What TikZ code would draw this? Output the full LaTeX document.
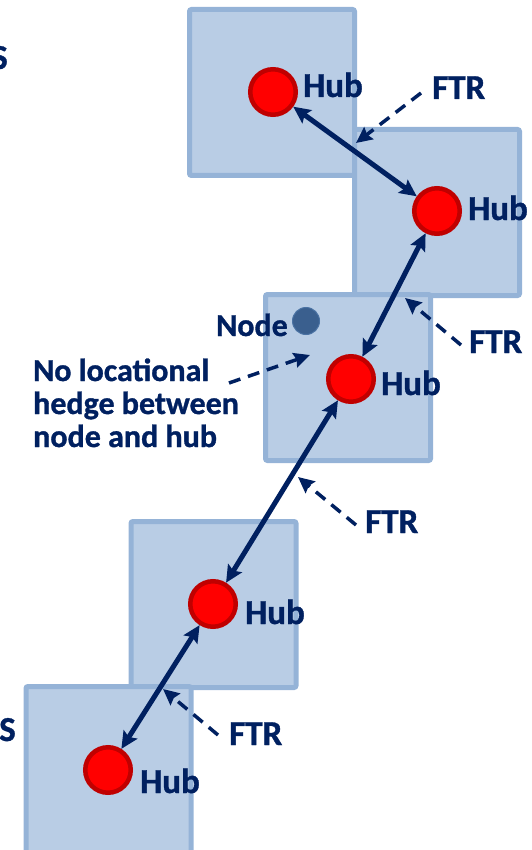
\documentclass[tikz,border=0pt]{standalone}
\usepackage{fontspec}
\setmainfont{Carlito}[BoldFeatures={FakeBold=1}]
\usetikzlibrary{arrows.meta}
\definecolor{navy}{HTML}{002060}
\definecolor{boxfill}{HTML}{B9CDE5}
\definecolor{boxline}{HTML}{95B3D7}
\definecolor{hubfill}{HTML}{FF0000}
\definecolor{hubline}{HTML}{C00000}
\definecolor{dotfill}{HTML}{3A5F8E}
\definecolor{dotline}{HTML}{4A72A3}
\begin{document}
\begin{tikzpicture}[x=1pt,y=-1pt,
  zone/.style={draw=boxline, fill=boxfill, line width=5pt, rounded corners=2pt,
    minimum width=165pt, minimum height=166pt, inner sep=0pt, outer sep=0pt},
  hub/.style={circle, fill=hubfill, draw=hubline, line width=4.5pt,
    minimum size=45.5pt, inner sep=0pt},
  smalldot/.style={circle, fill=dotfill, draw=dotline, line width=1pt,
    minimum size=27pt, inner sep=0pt},
  lbl/.style={anchor=base west, inner sep=0pt, text=navy,
    font=\fontsize{35}{40}\selectfont\bfseries},
  note/.style={anchor=base west, inner sep=0pt, text=navy, align=left,
    font=\fontsize{32}{33}\selectfont\bfseries},
  link/.style={draw=navy, line width=5pt,
    {Stealth[length=17pt,width=16pt,inset=3pt]}-{Stealth[length=17pt,width=16pt,inset=3pt]}},
  pointer/.style={draw=navy, line width=3.5pt, dash pattern=on 12pt off 8pt,
    -{Stealth[length=16pt,width=15pt,inset=2pt]}}
]
\useasboundingbox (0,0) rectangle (531,850);
\clip (0,0) rectangle (531,850);

% market zones
\node[zone] (z1) at (272,92.5) {};
\node[zone] (z2) at (437,212.5) {};
\node[zone] (z3) at (348,377.5) {};
\node[zone] (z4) at (213.5,604.5) {};
\node[zone] (z5) at (108.5,769.5) {};

% trading hubs
\node[hub] (h1) at (273,92) {};
\node[hub] (h2) at (437,211) {};
\node[hub] (h3) at (351,379) {};
\node[hub] (h4) at (213,604) {};
\node[hub] (h5) at (108,770) {};

% hub-to-hub transmission rights
\draw[link] (h1) -- (h2);
\draw[link] (h2) -- (h3);
\draw[link] (h3) -- (h4);
\draw[link] (h4) -- (h5);

% hub labels
\node[lbl] (l1) at (303,97) {Hub};
\node[lbl] (l2) at (468,220) {Hub};
\node[lbl] (l3) at (381,395) {Hub};
\node[lbl] (l4) at (245,624) {Hub};
\node[lbl] (l5) at (140,793) {Hub};

% FTR labels and their pointers
\node[lbl] (f1) at (432,99) {FTR};
\node[lbl] (f2) at (469,353) {FTR};
\node[lbl] (f3) at (365,533) {FTR};
\node[lbl] (f4) at (229,745) {FTR};

\coordinate (p1s) at (421,93);  \coordinate (p1e) at (356,143);
\coordinate (p2s) at (461,345); \coordinate (p2e) at (405,298);
\coordinate (p3s) at (356,525); \coordinate (p3e) at (298,477);
\coordinate (p4s) at (218,735); \coordinate (p4e) at (163,689);
\draw[pointer] (p1s) -- (p1e);
\draw[pointer] (p2s) -- (p2e);
\draw[pointer] (p3s) -- (p3e);
\draw[pointer] (p4s) -- (p4e);

% load node inside the middle zone
\node[smalldot] (nd) at (306,321) {};
\node[note] (ndl) at (216,336) {Node};

% annotation (base anchor sits on the last line)
\node[note] (hedge) at (33,447) {No locational\\hedge between\\node and hub};
\coordinate (p5s) at (229,383); \coordinate (p5e) at (310,355);
\draw[pointer] (p5s) -- (p5e);

% text continuing from the left margin
\node[lbl] (s1) at (-9,69) {S};
\node[lbl] (s2) at (-1,741) {S};
\end{tikzpicture}
\end{document}
